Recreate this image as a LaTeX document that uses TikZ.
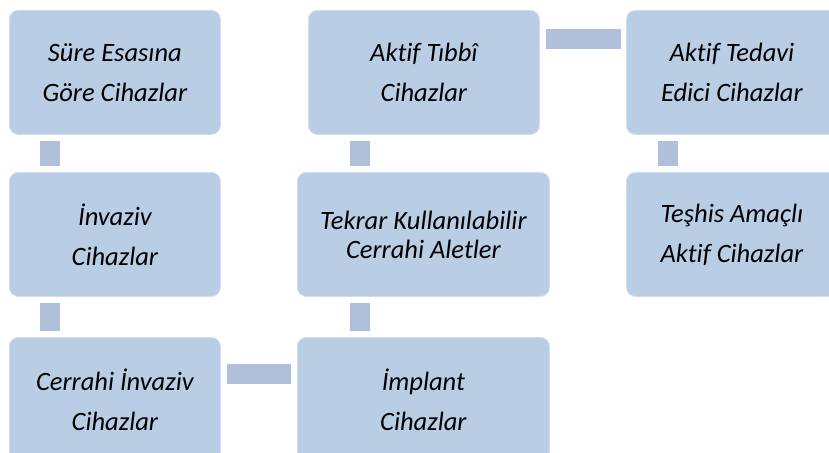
\documentclass[tikz,border=0pt]{standalone}
\usepackage{fontspec}
\setmainfont{Carlito}[Ligatures=NoCommon]
\definecolor{boxblue}{RGB}{185,205,229}
\definecolor{linkblue}{RGB}{176,192,218}
\tikzset{
    stage-box/.style = {draw=white!35!boxblue, fill=boxblue, line width=0.8pt, rounded corners=9pt, rectangle, anchor=north west, inner sep=0pt, align=center, minimum height=124pt, font=\fontsize{26.5}{40}\selectfont\itshape},
    stage-link/.style = {draw=linkblue, line width=20pt, shorten <=6pt, shorten >=6pt},
}

\begin{document}
\begin{tikzpicture}[x=1pt, y=-1pt]
\useasboundingbox (0,0) rectangle (829,452);
\clip (0,0) rectangle (829,452);
% left column
\node[stage-box, minimum width=211pt] (sure) at (9,10) {Süre Esasına\\Göre Cihazlar};
\node[stage-box, minimum width=211pt] (invaziv) at (9,172) {İnvaziv\\Cihazlar};
\node[stage-box, minimum width=211pt] (cerrahi) at (9,337) {Cerrahi İnvaziv\\Cihazlar};
% middle column
\node[stage-box, minimum width=231pt] (aktif) at (308,10) {Aktif Tıbbî\\Cihazlar};
\node[stage-box, minimum width=252pt, font=\fontsize{26.5}{29}\selectfont\itshape] (tekrar) at (297,172) {Tekrar Kullanılabilir\\Cerrahi Aletler};
\node[stage-box, minimum width=252pt] (implant) at (297,337) {İmplant\\Cihazlar};
% right column
\node[stage-box, minimum width=211pt] (tedavi) at (626,10) {Aktif Tedavi\\Edici Cihazlar};
\node[stage-box, minimum width=211pt] (teshis) at (626,172) {Teşhis Amaçlı\\Aktif Cihazlar};

\coordinate (l1) at ([xshift=41pt]sure.south west);
\coordinate (l2) at ([xshift=41pt]invaziv.south west);
\coordinate (l3) at ([xshift=52pt]aktif.south west);
\coordinate (l4) at ([xshift=63pt]tekrar.south west);
\coordinate (l5) at ([xshift=42pt]tedavi.south west);
\coordinate (h1) at ([yshift=-29pt]aktif.north east);
\coordinate (h2) at ([yshift=-37pt]cerrahi.north east);

\draw[stage-link] (l1) -- (l1 |- invaziv.north);
\draw[stage-link] (l2) -- (l2 |- cerrahi.north);
\draw[stage-link] (l3) -- (l3 |- tekrar.north);
\draw[stage-link] (l4) -- (l4 |- implant.north);
\draw[stage-link] (l5) -- (l5 |- teshis.north);
\draw[stage-link, shorten >=5pt] (h1) -- (h1 -| tedavi.west);
\draw[stage-link] (h2) -- (h2 -| implant.west);
\end{tikzpicture}
\end{document}
